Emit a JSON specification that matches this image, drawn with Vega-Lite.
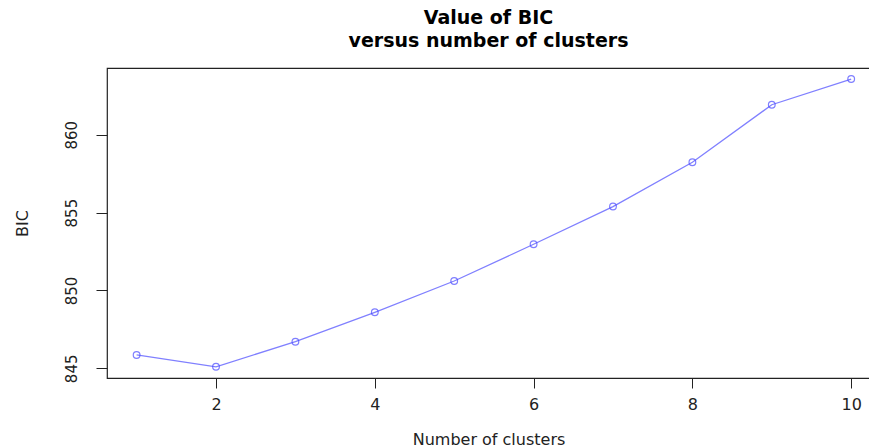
{
  "$schema": "https://vega.github.io/schema/vega-lite/v6.json",
  "autosize": "none",
  "width": 763,
  "height": 310,
  "padding": {"left": 107, "top": 68, "right": 0, "bottom": 70},
  "background": "white",
  "config": {
    "font": "DejaVu Sans",
    "view": {"stroke": "#222222", "strokeWidth": 1.2}
  },
  "title": {
    "text": ["Value of BIC", "versus number of clusters"],
    "fontSize": 19,
    "fontWeight": "bold",
    "font": "DejaVu Sans",
    "color": "black",
    "anchor": "middle",
    "lineHeight": 23,
    "offset": 17
  },
  "data": {
    "values": [
      {"k": 1, "bic": 845.86},
      {"k": 2, "bic": 845.10},
      {"k": 3, "bic": 846.71},
      {"k": 4, "bic": 848.60},
      {"k": 5, "bic": 850.61},
      {"k": 6, "bic": 852.97},
      {"k": 7, "bic": 855.39},
      {"k": 8, "bic": 858.24},
      {"k": 9, "bic": 861.93},
      {"k": 10, "bic": 863.58}
    ]
  },
  "encoding": {
    "x": {
      "field": "k",
      "type": "quantitative",
      "scale": {"domain": [0.627, 10.237], "nice": false, "zero": false},
      "axis": {
        "title": "Number of clusters",
        "titleFont": "DejaVu Sans",
        "titleFontSize": 16,
        "titleFontWeight": "normal",
        "titleColor": "#222222",
        "titlePadding": 19,
        "values": [2, 4, 6, 8, 10],
        "grid": false,
        "domain": false,
        "tickColor": "#222222",
        "tickSize": 10,
        "labelFont": "DejaVu Sans",
        "labelFontSize": 16,
        "labelColor": "#222222",
        "labelPadding": 8,
        "labelFlush": false
      }
    },
    "y": {
      "field": "bic",
      "type": "quantitative",
      "scale": {"domain": [844.38, 864.29], "nice": false, "zero": false},
      "axis": {
        "title": "BIC",
        "titleFont": "DejaVu Sans",
        "titleFontSize": 16,
        "titleFontWeight": "normal",
        "titleColor": "#222222",
        "titlePadding": 34,
        "values": [845, 850, 855, 860],
        "grid": false,
        "domain": false,
        "tickColor": "#222222",
        "tickSize": 11,
        "labelAngle": -90,
        "labelAlign": "center",
        "labelBaseline": "bottom",
        "labelFont": "DejaVu Sans",
        "labelFontSize": 15,
        "labelColor": "#222222",
        "labelPadding": 17,
        "labelFlush": false
      }
    }
  },
  "layer": [
    {
      "mark": {"type": "line", "color": "#8080ff", "strokeWidth": 1.3}
    },
    {
      "mark": {"type": "point", "shape": "circle", "filled": false, "color": "#4a4aff", "strokeWidth": 1.2, "size": 45}
    }
  ]
}
